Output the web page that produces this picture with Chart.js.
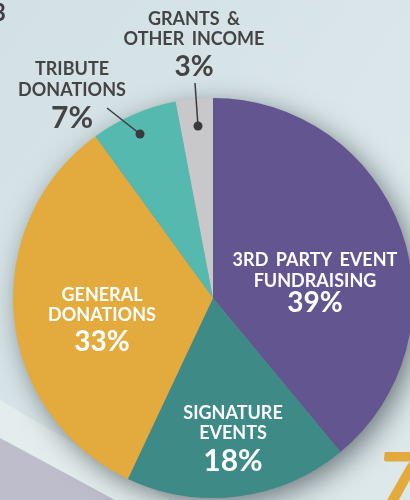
<!DOCTYPE html>
<html>
<head>
<meta charset="utf-8">
<script src="https://cdn.jsdelivr.net/npm/chart.js@4.4.0/dist/chart.umd.min.js"></script>
<style>
  html, body { margin: 0; padding: 0; overflow: hidden; background: #d8e4e7; }
  #wrap { position: absolute; left: 0; top: 0; width: 426px; height: 500px; }
</style>
</head>
<body>
<div id="wrap"><canvas id="pieCanvas" width="426" height="500"></canvas></div>
<script>
const categories = ['3RD PARTY EVENT FUNDRAISING', 'SIGNATURE EVENTS', 'GENERAL DONATIONS', 'TRIBUTE DONATIONS', 'GRANTS & OTHER INCOME'];
const shares = [39, 18, 33, 7, 3];
const sliceColors = ['#625590', '#3e8a87', '#e3ab3e', '#55b9af', '#c8c8ca'];

// label lines for each slice, drawn relative to the pie centre
const labelLines = [
    ['3RD PARTY EVENT', 'FUNDRAISING'],
    ['SIGNATURE', 'EVENTS'],
    ['GENERAL', 'DONATIONS'],
    ['TRIBUTE', 'DONATIONS'],
    ['GRANTS &', 'OTHER INCOME']
];
// [dx, dy of first line, line gap, dy of percent]
const labelPos = [
    [102, -37.5, 21, 4.5],
    [20, 115.5, 20, 163],
    [-111, -3, 20, 44],
    [-141, -229, 21, -180],
    [-19, -278.5, 20, -231]
];
const labelColor = ['#fff', '#fff', '#fff', '#444', '#444'];
// leader lines: [x1, y1, x2, y2] relative to the centre
const leaders = [null, null, null, [-106, -190, -73, -164], [-18, -215, -15, -172]];

const backdrop = {
    id: 'backdrop',
    beforeDraw(chart) {
        const ctx = chart.ctx;
        ctx.save();
        const g = ctx.createLinearGradient(0, 0, 426, 300);
        g.addColorStop(0, '#d3e1e4');
        g.addColorStop(1, '#dde8eb');
        ctx.fillStyle = g;
        ctx.fillRect(0, 0, 426, 500);
        // lighter band and lavender block bottom-left
        ctx.fillStyle = '#e3eded';
        ctx.beginPath();
        ctx.moveTo(0, 400); ctx.lineTo(170, 500); ctx.lineTo(0, 500); ctx.closePath();
        ctx.fill();
        ctx.fillStyle = '#bdbdcb';
        ctx.beginPath();
        ctx.moveTo(0, 438); ctx.lineTo(115, 500); ctx.lineTo(0, 500); ctx.closePath();
        ctx.fill();
        // cut-off digit at top-left
        ctx.fillStyle = '#3e3e42';
        ctx.font = 'bold 24px Lato';
        ctx.textAlign = 'right';
        ctx.textBaseline = 'middle';
        ctx.fillText('3', 6, 13);
        // gold brush stroke bottom-right
        ctx.fillStyle = '#e3ab3e';
        ctx.font = 'italic 900 80px Lato';
        ctx.textAlign = 'left';
        ctx.textBaseline = 'alphabetic';
        ctx.fillText('7', 376, 510);
        ctx.restore();
    },
    beforeDatasetsDraw(chart) {
        const arc = chart.getDatasetMeta(0).data[0];
        if (!arc) return;
        const ctx = chart.ctx;
        ctx.save();
        ctx.shadowColor = 'rgba(30, 40, 45, 0.6)';
        ctx.shadowBlur = 28;
        ctx.shadowOffsetX = 6;
        ctx.shadowOffsetY = 7;
        ctx.fillStyle = '#888';
        ctx.beginPath();
        ctx.arc(arc.x, arc.y, arc.outerRadius - 1, 0, Math.PI * 2);
        ctx.fill();
        ctx.restore();
    }
};

const sliceLabels = {
    id: 'sliceLabels',
    afterDatasetsDraw(chart) {
        const meta = chart.getDatasetMeta(0);
        const cx = meta.data[0].x, cy = meta.data[0].y;
        const ctx = chart.ctx;
        ctx.save();
        ctx.textAlign = 'center';
        ctx.textBaseline = 'middle';
        ctx.wordSpacing = '3px';
        shares.forEach((v, i) => {
            const [dx, dy, gap, py] = labelPos[i];
            ctx.fillStyle = labelColor[i];
            ctx.font = 'bold 18px Lato';
            labelLines[i].forEach((t, k) => ctx.fillText(t, cx + dx, cy + dy + k * gap));
            ctx.font = 'bold ' + (i === 3 || i === 1 ? 30 : 28) + 'px Lato';
            ctx.fillText(v + '%', cx + dx, cy + py);
            const l = leaders[i];
            if (l) {
                ctx.strokeStyle = '#3a3a3e';
                ctx.lineWidth = 1.5;
                ctx.beginPath();
                ctx.moveTo(cx + l[0], cy + l[1]);
                ctx.lineTo(cx + l[2], cy + l[3]);
                ctx.stroke();
                ctx.fillStyle = '#3a3a3e';
                ctx.beginPath();
                ctx.arc(cx + l[2], cy + l[3], 4.5, 0, Math.PI * 2);
                ctx.fill();
            }
        });
        ctx.restore();
    }
};

const ctxPie = document.getElementById('pieCanvas').getContext('2d');
const pieChart = new Chart(ctxPie, {
    type: 'pie',
    data: {
        labels: categories,
        datasets: [{
            data: shares,
            backgroundColor: sliceColors,
            borderWidth: 0
        }]
    },
    options: {
        responsive: false,
        animation: false,
        layout: { padding: { left: 13, right: 13, top: 98, bottom: 2 } },
        plugins: {
            legend: { display: false },
            tooltip: { enabled: false }
        }
    },
    plugins: [backdrop, sliceLabels]
});
</script>
</body>
</html>
